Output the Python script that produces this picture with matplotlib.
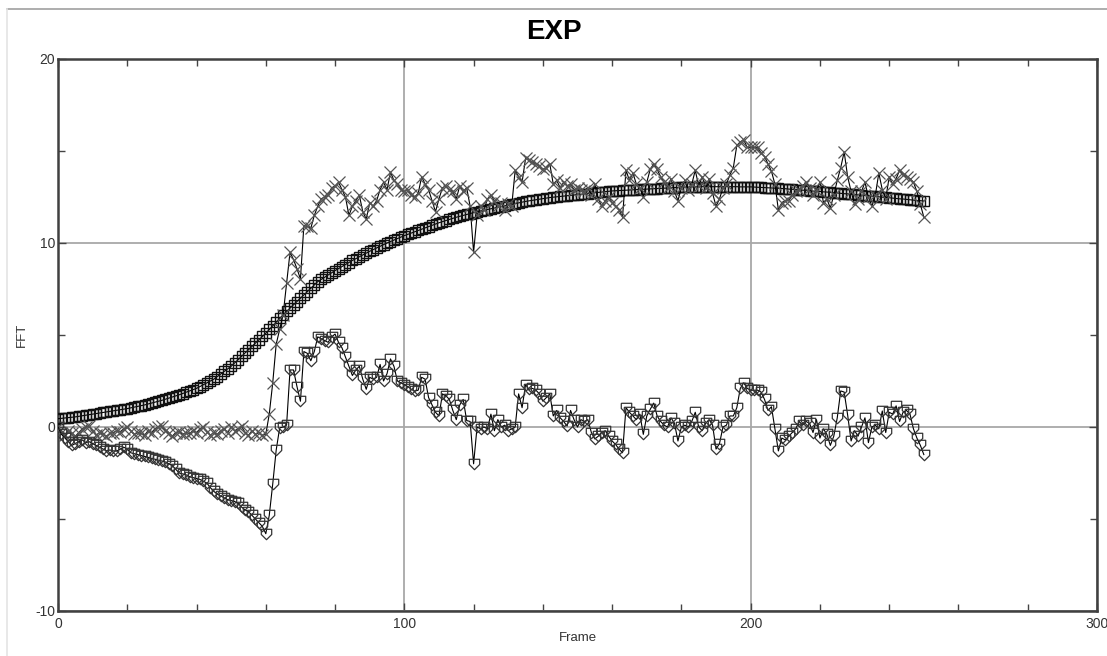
import numpy as np
import matplotlib
matplotlib.use("Agg")
import matplotlib.pyplot as plt
from matplotlib.lines import Line2D
from matplotlib.ticker import MultipleLocator

plt.rcParams['font.family'] = ['Liberation Sans', 'DejaVu Sans']
plt.rcParams['axes.unicode_minus'] = False

# smooth fitted curve (square markers), one value per frame
fit_curve = [
    0.45, 0.47, 0.49, 0.51, 0.53, 0.55, 0.58, 0.61, 0.64, 0.67,
    0.70, 0.73, 0.76, 0.79, 0.82, 0.85, 0.88, 0.91, 0.94, 0.97,
    1.00, 1.04, 1.08, 1.12, 1.16, 1.20, 1.25, 1.30, 1.35, 1.40,
    1.45, 1.51, 1.57, 1.63, 1.69, 1.75, 1.82, 1.89, 1.96, 2.03,
    2.10, 2.20, 2.30, 2.40, 2.50, 2.60, 2.74, 2.88, 3.02, 3.16,
    3.30, 3.48, 3.66, 3.84, 4.02, 4.20, 4.38, 4.56, 4.74, 4.92,
    5.10, 5.30, 5.50, 5.70, 5.90, 6.10, 6.28, 6.46, 6.64, 6.82,
    7.00, 7.18, 7.36, 7.54, 7.72, 7.90, 8.02, 8.14, 8.26, 8.38,
    8.50, 8.61, 8.72, 8.83, 8.94, 9.05, 9.15, 9.25, 9.35, 9.45,
    9.55, 9.64, 9.73, 9.82, 9.91, 10.00, 10.08, 10.16, 10.24, 10.32,
    10.40, 10.47, 10.54, 10.61, 10.68, 10.75, 10.82, 10.89, 10.96, 11.03,
    11.10, 11.16, 11.22, 11.28, 11.34, 11.40, 11.45, 11.50, 11.55, 11.60,
    11.65, 11.70, 11.74, 11.78, 11.82, 11.86, 11.90, 11.94, 11.98, 12.02,
    12.06, 12.10, 12.14, 12.18, 12.22, 12.26, 12.29, 12.32, 12.35, 12.38,
    12.41, 12.44, 12.47, 12.49, 12.51, 12.53, 12.55, 12.57, 12.59, 12.61,
    12.63, 12.65, 12.67, 12.69, 12.71, 12.73, 12.75, 12.77, 12.79, 12.81,
    12.83, 12.84, 12.85, 12.86, 12.87, 12.88, 12.89, 12.90, 12.91, 12.92,
    12.93, 12.94, 12.95, 12.96, 12.97, 12.98, 12.99, 13.00, 13.01, 13.02,
    13.03, 13.04, 13.04, 13.05, 13.05, 13.05, 13.06, 13.06, 13.06, 13.06,
    13.06, 13.06, 13.06, 13.06, 13.06, 13.06, 13.06, 13.05, 13.05, 13.05,
    13.05, 13.04, 13.03, 13.02, 13.01, 13.00, 12.99, 12.98, 12.97, 12.96,
    12.95, 12.93, 12.92, 12.90, 12.89, 12.87, 12.86, 12.84, 12.82, 12.81,
    12.80, 12.78, 12.77, 12.75, 12.73, 12.72, 12.70, 12.68, 12.67, 12.65,
    12.64, 12.62, 12.60, 12.58, 12.57, 12.55, 12.53, 12.51, 12.49, 12.48,
    12.46, 12.44, 12.42, 12.40, 12.39, 12.37, 12.35, 12.33, 12.31, 12.30,
    12.28,
]

# cross markers
cross_series = [
    0.0, -0.3, -0.45, -0.2, -0.35, -0.5, -0.3, -0.1, 0.0, 0.05,
    -0.2, -0.45, -0.3, -0.4, -0.5, -0.35, -0.3, -0.2, -0.25, -0.1,
    0.0, -0.2, -0.4, -0.3, -0.35, -0.45, -0.2, -0.3, -0.1, 0.0,
    0.05, -0.2, -0.35, -0.5, -0.3, -0.25, -0.4, -0.3, -0.35, -0.2,
    -0.3, -0.1, 0.0, -0.25, -0.45, -0.3, -0.4, -0.2, -0.1, -0.3,
    0.0, -0.2, -0.1, 0.05, -0.3, -0.45, -0.2, -0.4, -0.3, -0.45,
    -0.4, 0.7, 2.4, 4.5, 5.3, 6.1, 7.8, 9.5, 9.1, 8.6,
    8.05, 10.95, 10.9, 10.8, 11.5, 12.0, 12.4, 12.5, 12.6, 13.0,
    13.1, 13.3, 12.9, 12.5, 11.5, 12.0, 12.3, 12.6, 11.7, 11.3,
    12.2, 12.0, 12.3, 12.9, 13.3, 12.9, 13.85, 13.4, 13.2, 12.9,
    12.8, 12.9, 12.6, 12.5, 12.7, 13.6, 13.2, 12.9, 12.3, 11.7,
    12.4, 13.0, 13.1, 12.9, 12.8, 12.4, 13.1, 12.8, 13.0, 12.0,
    9.5, 11.5, 12.0, 11.8, 12.4, 12.6, 12.3, 12.0, 12.2, 11.8,
    12.1, 12.0, 13.95, 13.6, 13.3, 14.6, 14.5, 14.4, 14.3, 14.2,
    14.0, 14.1, 14.3, 13.2, 13.4, 13.0, 13.3, 13.1, 13.2, 12.9,
    13.0, 12.9, 12.8, 13.0, 12.6, 13.2, 12.4, 12.0, 12.3, 12.5,
    12.2, 12.0, 11.8, 11.4, 13.95, 13.4, 13.8, 13.2, 13.0, 12.5,
    13.3, 14.0, 14.3, 14.0, 13.6, 13.3, 13.0, 13.5, 12.8, 12.3,
    13.0, 13.4, 12.9, 13.2, 13.95, 13.1, 13.6, 13.0, 13.5, 12.7,
    12.0, 12.4, 13.0, 13.2, 13.7, 14.1, 15.3, 15.5, 15.6, 15.2,
    15.2, 15.2, 15.2, 14.9, 14.7, 14.3, 13.9, 13.2, 11.8, 12.2,
    12.3, 12.3, 12.6, 12.8, 12.9, 13.1, 13.3, 13.0, 12.6, 12.9,
    13.3, 12.2, 12.4, 11.9, 12.6, 13.4, 14.1, 14.95, 13.6, 12.8,
    12.1, 12.4, 12.8, 13.3, 12.5, 12.0, 12.6, 13.8, 12.9, 12.4,
    13.6, 13.2, 13.5, 13.95, 13.7, 13.6, 13.5, 13.3, 12.8, 12.1,
    11.4,
]

# shield markers
shield_series = [
    0.0, -0.4, -0.6, -0.8, -1.0, -0.9, -0.8, -0.7, -0.85, -0.8,
    -0.9, -1.0, -1.1, -1.2, -1.3, -1.25, -1.3, -1.3, -1.2, -1.1,
    -1.2, -1.4, -1.45, -1.5, -1.55, -1.6, -1.65, -1.7, -1.75, -1.8,
    -1.85, -1.9, -2.0, -2.1, -2.3, -2.5, -2.55, -2.6, -2.7, -2.75,
    -2.8, -2.85, -2.95, -3.05, -3.3, -3.5, -3.65, -3.75, -3.85, -3.95,
    -4.0, -4.05, -4.15, -4.35, -4.5, -4.6, -4.8, -5.0, -5.2, -5.4,
    -5.8, -4.8, -3.1, -1.25, -0.05, 0.0, 0.1, 3.1, 3.1, 2.2,
    1.4, 4.1, 4.0, 3.6, 4.1, 4.9, 4.8, 4.7, 4.6, 4.9,
    5.05, 4.6, 4.3, 3.8, 3.3, 2.8, 3.1, 3.3, 2.6, 2.05,
    2.7, 2.6, 2.7, 3.4, 2.5, 2.9, 3.7, 3.3, 2.5, 2.4,
    2.3, 2.2, 2.05, 1.95, 2.0, 2.7, 2.6, 1.6, 1.2, 0.8,
    0.6, 1.8, 1.7, 1.5, 0.9, 0.4, 1.2, 1.5, 0.35, 0.3,
    -2.0, 0.0, -0.1, 0.0, -0.1, 0.7, -0.2, 0.4, 0.0, 0.1,
    -0.2, -0.1, 0.0, 1.8, 1.05, 2.3, 2.05, 2.1, 2.0, 1.8,
    1.4, 1.6, 1.8, 0.6, 0.9, 0.5, 0.3, 0.05, 0.9, 0.4,
    0.0, 0.4, 0.3, 0.4, -0.3, -0.65, -0.5, -0.3, -0.2, -0.5,
    -0.76, -0.95, -1.2, -1.4, 1.05, 0.8, 0.6, 0.4, 0.7, -0.4,
    0.6, 0.96, 1.3, 0.6, 0.3, 0.1, 0.0, 0.5, 0.2, -0.76,
    0.0, 0.1, 0.0, 0.3, 0.8, 0.0, -0.2, 0.2, 0.4, 0.1,
    -1.2, -0.9, 0.0, 0.1, 0.6, 0.6, 1.05, 2.1, 2.4, 2.1,
    2.0, 2.0, 2.0, 1.9, 1.5, 0.9, 1.1, -0.1, -1.3, -0.6,
    -0.7, -0.5, -0.3, -0.1, 0.3, 0.1, 0.3, 0.2, -0.3, 0.4,
    -0.6, -0.1, -0.4, -1.0, -0.5, 0.5, 1.96, 1.9, 0.65, -0.76,
    -0.2, -0.5, 0.0, 0.5, -0.85, 0.0, 0.1, -0.1, 0.87, -0.3,
    0.8, 0.7, 1.15, 0.3, 0.8, 0.9, 0.7, -0.1, -0.6, -1.0,
    -1.5,
]

x_ticks = [0, 100, 200, 300]
y_ticks = [-10, 0, 10, 20]

shield = [(-1, 1), (1, 1), (1, 0), (0, -1), (-1, 0), (-1, 1)]

fig = plt.figure(figsize=(11.07, 6.56), dpi=100)
ax = fig.add_axes([58 / 1107, 45 / 656, 1039 / 1107, 552 / 656])

ax.plot(np.arange(len(fit_curve)), fit_curve, color='black', lw=0.8,
        marker='s', ms=7.2, mfc='none', mec='#111111', mew=1.0, zorder=3)
ax.plot(np.arange(len(cross_series)), cross_series, color='black', lw=0.8,
        marker='x', ms=8, mec='#555555', mew=0.9, zorder=4)
ax.plot(np.arange(len(shield_series)), shield_series, color='black', lw=0.8,
        marker=shield, ms=7.5, mfc='none', mec='#333333', mew=0.9, zorder=4)

ax.set_xlim(0, 300)
ax.set_ylim(-10, 20)
ax.set_xticks(x_ticks)
ax.set_yticks(y_ticks)
ax.xaxis.set_minor_locator(MultipleLocator(20))
ax.yaxis.set_minor_locator(MultipleLocator(5))
ax.tick_params(which='both', direction='in', top=True, right=True,
               colors='#444444', labelcolor='#333333', labelsize=10)
ax.tick_params(which='major', length=6, width=1)
ax.tick_params(which='minor', length=5, width=1)
ax.tick_params(axis='x', pad=4)
ax.tick_params(axis='y', pad=2)
ax.grid(True, which='major', color='#a8a8a8', lw=1.3, zorder=0)
for s in ax.spines.values():
    s.set_color('#404040')
    s.set_linewidth(1.8)

ax.set_xlabel('Frame', fontsize=9.5, color='#333333', labelpad=1)
ax.set_ylabel('FFT', fontsize=9.5, color='#333333')
ax.yaxis.set_label_coords(-30 / 1039, 0.5)
fig.text(0.5, 1 - 32 / 656, 'EXP', ha='center', va='center',
         fontsize=20, fontweight='bold')

# window frame edges
fig.add_artist(Line2D([7 / 1107, 1], [1 - 9 / 656, 1 - 9 / 656],
                      color='#a0a0a0', lw=1.2))
fig.add_artist(Line2D([7 / 1107, 7 / 1107], [0, 1 - 9 / 656],
                      color='#e4e4e4', lw=1.2))

fig.savefig('out.png', dpi=100)
